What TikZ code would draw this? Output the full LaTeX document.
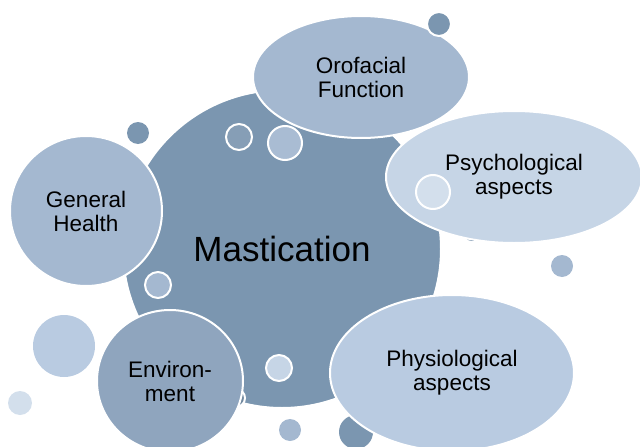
\documentclass[tikz,border=0pt]{standalone}
\usepackage{fontspec}
\setmainfont{Liberation Sans}
\usetikzlibrary{shapes.geometric}
\definecolor{cmain}{HTML}{7B96B0}
\definecolor{coro}{HTML}{A4B8D0}
\definecolor{cpsy}{HTML}{C6D5E6}
\definecolor{cgen}{HTML}{A4B8D0}
\definecolor{cenv}{HTML}{8FA5BE}
\definecolor{cphy}{HTML}{B9CBE1}
\definecolor{cpale}{HTML}{D3DFEC}
\tikzset{
  bubble/.style={ellipse, draw=white, line width=2pt, inner sep=0pt, align=center,
     font=\fontsize{22.5}{24}\selectfont, text=black},
  dot/.style={circle, draw=white, line width=2pt, inner sep=0pt},
  plain/.style={circle, draw=none, inner sep=0pt}
}
\begin{document}
\begin{tikzpicture}[x=1pt,y=-1pt]
\useasboundingbox (0,0) rectangle (640,447);
\clip (0,0) rectangle (640,447);
% background light bubbles
\node[plain, fill=cphy, minimum size=62pt] (b1) at (64,346) {};
\node[plain, fill=cpale, minimum size=24pt] (b2) at (20,403) {};
\node[plain, fill=cmain, minimum size=22pt] (b3) at (138,133) {};
\node[plain, fill=coro, minimum size=22pt] (b4) at (562,266) {};
\node[plain, fill=coro, minimum size=22pt] (b5) at (290,430) {};
\node[plain, fill=cmain, minimum size=34pt] (b6) at (356,432) {};
% main
\node[bubble, fill=cmain, minimum width=318pt, minimum height=318pt,
      font=\fontsize{35}{38}\selectfont] (main) at (282,249) {Mastication};
\node[plain, fill=cmain, minimum size=16pt] (b7) at (472,233) {};
\node[dot, fill=cmain!90!black, minimum size=18pt] (b8) at (236,398) {};
% satellites
\node[bubble, fill=coro, minimum width=216pt, minimum height=122pt] (oro) at (361,77) {Orofacial\\Function};
\node[dot, fill=cmain, minimum size=24pt] (b9) at (439,24) {};
\node[bubble, fill=cpsy, minimum width=256pt, minimum height=132pt] (psy) at (514,177) {Psychological\\aspects};
\node[dot, fill=cpale, minimum size=34pt] (b10) at (433,192) {};
\node[bubble, fill=cgen, minimum width=152pt, minimum height=150pt] (gen) at (86,211) {General\\Health};
\node[dot, fill=cmain!92!white, minimum size=26pt] (b11) at (239,137) {};
\node[dot, fill=coro!85!cpsy, minimum size=34pt] (b12) at (285,143) {};
\node[dot, fill=coro, minimum size=26pt] (b13) at (158,285) {};
\node[dot, fill=cpsy, minimum size=26pt] (b14) at (279,368) {};
\node[bubble, fill=cenv, minimum width=146pt, minimum height=142pt] (env) at (170,381) {Environ-\\ment};
\node[bubble, fill=cphy, minimum width=244pt, minimum height=156pt] (phy) at (452,373) {Physiological\\aspects};
\end{tikzpicture}
\end{document}
